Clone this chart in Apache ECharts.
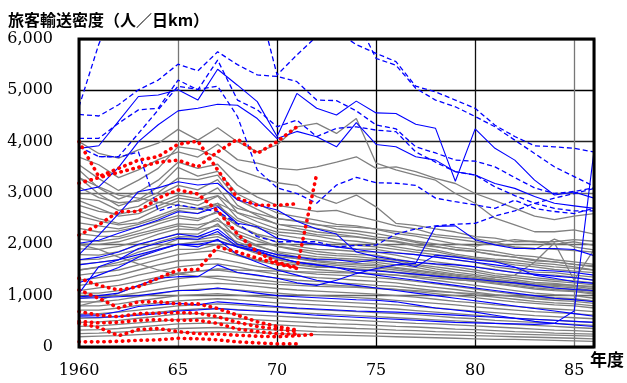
<!DOCTYPE html>
<html>
<head>
<meta charset="utf-8">
<script src="https://cdn.jsdelivr.net/npm/echarts@6/dist/echarts.min.js"></script>
<style>
html, body { margin: 0; padding: 0; background: #fff; }
#chart { width: 627px; height: 383px; }
</style>
</head>
<body>
<div id="chart"></div>
<script>
// 年度 (1960 - 1986)
const years = [1960,1961,1962,1963,1964,1965,1966,1967,1968,1969,1970,1971,1972,1973,
               1974,1975,1976,1977,1978,1979,1980,1981,1982,1983,1984,1985,1986];
const xTicks = ['1960', '65', '70', '75', '80', '85'];

// 灰色の線 (旅客輸送密度, 人/日km)
const grayLines = [
    [4000,3770,3680,3840,3970,4240,4030,4270,4000,3800,3935,4290,4355,4160,4450,3580,3450,3350,3250,2990,2800,2510,2380,2245,2245,2280,2200],
    [3700,3550,3300,3450,3650,3800,3700,3950,3650,3580,3480,3450,3510,3600,3705,3480,3510,3415,3285,3185,2990,2850,2700,2550,2480,2550,2600],
    [3550,3280,3050,3250,3480,3900,3850,3700,3450,3320,3200,3150,2930,2800,2960,2730,2410,2370,2300,2240,2150,2120,2050,2060,2000,2050,1980],
    [3450,3100,2880,3020,3250,3600,3480,3560,3150,2920,2760,2700,2640,2660,2550,2460,2360,2300,2190,2150,2110,2040,2090,2050,2050,2090,2060],
    [3300,2980,2750,2870,3120,3500,3330,3420,2980,2790,2610,2540,2470,2390,2360,2290,2210,2160,2080,2010,1960,2050,1940,1900,2100,1950,1890],
    [3120,2910,2810,2840,3010,3290,3260,3350,2870,2680,2500,2460,2390,2300,2260,2210,2140,2060,2010,1940,1900,1860,1790,1760,1700,1660,1610],
    [2900,2850,2660,2740,2960,3150,3060,3260,2760,2560,2390,2360,2310,2240,2210,2140,2110,2040,1960,1890,1860,1790,1750,1680,1660,1610,1580],
    [2760,2640,2590,2660,2810,2960,2890,3100,2610,2440,2300,2260,2190,2160,2140,2090,2050,1960,1890,1810,1750,1710,1690,1640,1610,1560,1500],
    [2640,2500,2410,2500,2690,2840,2760,2940,2510,2360,2240,2210,2160,2090,2060,2010,1950,1890,1860,1780,1710,1660,1600,1560,1510,1480,1450],
    [3300,3120,2960,2900,2820,2760,2700,2800,2620,2510,2400,2310,2240,2200,2150,2100,2060,1990,1950,1900,1860,1800,1750,1700,1660,1610,1560],
    [2850,2700,2550,2600,2750,2900,2850,2950,2700,2600,2500,2450,2380,2350,2330,2300,2250,2200,2150,2100,2050,2000,1950,1920,1900,1880,1850],
    [2550,2450,2380,2420,2560,2700,2680,2760,2460,2320,2190,2130,2080,2030,1980,1950,1900,1850,1800,1760,1720,1680,1640,1600,1560,1530,1500],
    [2420,2360,2300,2390,2510,2660,2600,2800,2360,2200,2110,2050,2010,1960,1910,1900,1840,1800,1760,1700,1650,1560,1510,1460,1450,1400,1360],
    [2310,2240,2260,2340,2450,2560,2500,2620,2360,2180,2040,1960,1900,1890,1860,1850,1790,1710,1660,1610,1560,1510,1450,1410,1400,1360,1300],
    [2210,2160,2150,2260,2400,2510,2460,2650,2200,2060,1960,1910,1860,1820,1800,1790,1710,1650,1610,1560,1500,1430,1390,1350,1310,1290,1250],
    [2100,2060,2110,2210,2300,2400,2380,2460,2260,2110,1960,1880,1810,1780,1760,1720,1690,1610,1560,1510,1460,1390,1350,1310,1280,1250,1210],
    [2010,2000,2050,2160,2260,2360,2310,2510,2110,1960,1860,1810,1760,1730,1710,1690,1650,1590,1520,1460,1410,1360,1310,1260,1240,1200,1160],
    [1910,1900,1960,2060,2200,2300,2280,2360,2160,1980,1840,1760,1720,1700,1680,1650,1600,1550,1480,1420,1380,1320,1280,1230,1200,1180,1130],
    [1800,1790,1860,1990,2100,2210,2200,2400,2010,1850,1760,1720,1680,1650,1630,1610,1550,1500,1450,1400,1350,1300,1250,1200,1180,1150,1100],
    [1700,1710,1800,1900,2050,2150,2140,2200,2050,1900,1800,1720,1660,1620,1600,1580,1530,1480,1430,1380,1330,1280,1230,1180,1150,1120,1080],
    [1500,1550,1600,1700,1800,1900,1900,2000,1800,1700,1650,1600,1550,1550,1500,1500,1450,1400,1400,1350,1300,1350,1400,1650,2030,1300,1900],
    [1610,1650,1700,1850,1950,2100,2090,2150,1980,1850,1720,1660,1620,1590,1560,1540,1500,1450,1400,1350,1300,1250,1200,1150,1120,1100,1050],
    [1500,1560,1650,1760,1900,2000,2050,2080,1950,1820,1700,1630,1570,1540,1520,1500,1460,1420,1370,1320,1280,1230,1180,1130,1100,1080,1030],
    [2000,1900,1750,1620,1500,1420,1380,1330,1280,1250,1220,1200,1180,1170,1160,1140,1120,1100,1080,1060,1040,1010,990,960,940,920,900],
    [800,900,1050,1200,1320,1420,1480,1520,1500,1490,1480,1470,1460,1450,1440,1420,1400,1370,1340,1310,1290,1270,1250,1230,1220,1200,1180],
    [1400,1450,1500,1600,1700,1800,1850,1880,1780,1680,1600,1550,1510,1480,1450,1430,1400,1350,1300,1250,1200,1150,1100,1050,1020,1000,950],
    [1300,1350,1400,1500,1600,1680,1700,1720,1650,1570,1510,1460,1420,1400,1380,1350,1320,1280,1230,1180,1130,1080,1030,990,960,940,900],
    [1200,1250,1300,1400,1480,1560,1600,1620,1560,1480,1420,1380,1350,1330,1300,1280,1250,1200,1160,1120,1070,1020,980,940,910,890,850],
    [1100,1150,1200,1280,1360,1440,1480,1500,1450,1390,1340,1300,1280,1250,1230,1200,1180,1140,1100,1060,1010,970,930,890,860,840,800],
    [1050,1050,1100,1180,1260,1330,1370,1380,1350,1310,1270,1240,1220,1200,1180,1150,1120,1080,1040,1000,960,920,880,850,820,800,760],
    [950,980,1000,1060,1120,1180,1220,1240,1220,1180,1140,1110,1090,1070,1050,1030,1000,970,930,890,860,820,790,760,740,720,690],
    [880,880,920,980,1040,1100,1120,1140,1110,1080,1050,1020,1000,980,960,940,910,880,850,820,780,750,720,690,670,650,620],
    [800,800,840,900,950,1000,1020,1040,1010,980,950,920,900,880,860,840,820,790,760,730,700,670,640,610,590,570,550],
    [720,720,760,810,860,900,920,940,920,890,860,840,820,800,780,760,740,710,680,650,620,590,560,540,520,500,480],
    [640,650,680,720,760,800,820,840,820,790,770,750,730,710,690,670,650,630,600,570,550,520,500,480,460,440,420],
    [560,570,600,640,680,720,740,750,730,710,690,670,650,630,610,590,570,550,530,510,490,460,440,420,400,380,360],
    [480,490,520,560,600,640,650,660,640,620,600,580,560,540,520,500,480,460,450,430,410,390,370,350,330,320,300],
    [400,410,440,470,500,540,560,570,550,530,510,490,470,450,440,420,400,390,370,350,340,320,300,290,270,260,250],
    [330,340,360,390,420,450,460,470,460,440,430,410,390,380,360,350,330,320,300,290,280,260,250,240,230,220,210],
    [260,270,290,310,330,360,370,380,360,350,330,320,300,290,280,270,260,250,240,230,220,210,200,190,180,170,160],
    [200,210,220,240,260,280,290,300,290,280,260,250,240,230,220,210,200,190,180,170,160,150,150,140,130,120,110]
];

// 青の実線
const blueSolid = [
    [3870,3920,4400,4880,4910,5010,4810,5410,5100,4780,4100,4940,4650,4520,4790,4560,4550,4340,4260,3230,4250,3870,3640,3250,2960,3020,2900],
    [3040,3120,3500,4000,4330,4600,4650,4730,4710,4450,4060,4200,4095,3900,4370,3945,3900,3705,3640,3415,3350,3185,3090,2930,2800,2750,2700],
    [1800,2180,2600,3025,3100,3220,3155,3190,2864,2766,2669,2450,2300,2200,1850,1760,1700,1650,1620,1600,1560,1500,1450,1420,1380,1350,1300],
    [2020,2080,2215,2344,2474,2636,2600,2733,2410,2344,2118,2050,2000,1950,1900,1850,1830,1800,1750,1700,1650,1600,1550,1500,1480,1450,1400],
    [1046,1565,1700,1920,2020,2120,2100,2250,1950,1850,1750,1650,1600,1550,1500,1480,1450,1420,1380,1350,1320,1280,1250,1200,1150,1120,1100],
    [980,1000,1050,1200,1340,1370,1370,1600,1450,1400,1340,1250,1200,1300,1430,1530,1600,1630,2350,2360,2090,1990,1920,1920,1920,1900,1780],
    [620,620,690,790,820,850,820,880,850,820,790,760,740,720,700,690,680,660,640,620,600,580,560,540,520,500,480],
    [590,580,590,620,650,700,720,750,720,700,680,650,620,600,580,560,540,520,500,480,470,460,450,440,460,700,3820],
    [1250,1400,1550,1750,1880,2000,2000,2070,1950,1880,1750,1650,1600,1550,1450,1400,1350,1300,1250,1200,1150,1100,1050,1000,950,920,880],
    [950,960,980,1000,1050,1100,1100,1150,1100,1050,1000,980,960,940,920,910,880,820,760,720,680,620,560,500,460,430,400],
    [1600,1650,1700,1800,1900,2000,1950,2100,1800,1650,1500,1400,1300,1250,1200,1150,1100,1050,1000,950,900,850,800,750,700,650,600],
    [1700,1750,1850,2000,2100,2200,2150,2300,2000,1900,1800,1750,1700,1700,1650,1700,1650,1565,1790,1750,1695,1660,1560,1400,1340,1270,1240]
];

// 青の破線
const blueDashed = [
    [4680,5900,6800,7000,7000,7000,7000,7000,7000,6800,5300,5690,6050,6150,5890,5720,5560,5080,4970,4810,4650,4320,4100,3920,3900,3870,3800],
    [null,null,null,null,null,null,null,null,null,null,null,null,null,7000,6400,5620,5490,5040,4810,4680,4490,4290,4030,3770,3510,3320,3130],
    [4530,4500,4720,5010,5200,5510,5380,5750,5500,5300,5270,5170,4810,4800,4600,4325,4250,3900,3780,3640,3620,3510,3300,3100,2990,3030,3100],
    [4065,4065,4360,4620,4650,5200,5010,5590,4810,4620,4290,4420,4100,4260,4290,4225,4195,3800,3600,3415,3350,3120,2950,2800,2700,2650,2650],
    [3900,3710,3710,4160,4620,5080,5020,5080,4490,3450,3100,2990,2800,3155,3305,3200,3190,3150,2900,2830,2770,2700,2860,2700,2640,2600,2700],
    [null,3710,3700,3800,2650,2770,2700,2640,2400,2150,2050,2050,2050,1950,1980,1985,2200,2300,2360,2390,2410,2550,2650,2800,2900,2990,3090]
];

// 赤の点線 (1960年から)
const redDotted = [
    [4000,3320,3480,3640,3710,3950,4010,3450,2900,2760,2760,2790],
    [3190,3300,3400,3500,3600,3640,3510,3800,4050,3770,4000,4290],
    [2180,2380,2640,2640,2900,3060,2980,2650,2200,1850,1650,1550],
    [1340,1200,1110,1175,1340,1500,1510,1950,1850,1730,1620,1530,3370],
    [1110,950,760,880,880,840,840,750,620,490,400,330],
    [690,620,590,650,660,670,660,590,480,400,350,300],
    [500,470,480,520,530,520,520,460,350,300,260,250],
    [460,380,220,340,360,300,260,250,230,210,200,220,250],
    [100,100,110,130,140,170,160,140,100,80,60,60]
];

// [年, 値] の組にする (null は飛ばす)
function toPairs(vals) {
    let out = [];
    vals.forEach(function (v, i) {
        if (v !== null && v !== undefined) {
            out.push([years[i], v]);
        }
    });
    return out;
}

function makeSeries(list, lineStyle, z) {
    return list.map(function (vals) {
        return {
            type: 'line',
            data: toPairs(vals),
            showSymbol: false,
            silent: true,
            clip: true,
            z: z,
            lineStyle: lineStyle
        };
    });
}

let series = [];
series = series.concat(makeSeries(grayLines, {color: '#808080', width: 1.3}, 2));
series = series.concat(makeSeries(blueSolid, {color: '#0000ff', width: 1.1}, 3));
series = series.concat(makeSeries(blueDashed, {color: '#0000ff', width: 1.3, type: [5, 3]}, 3));
series = series.concat(makeSeries(redDotted, {color: '#ff0000', width: 3.6, type: [0.4, 5.8], cap: 'round'}, 4));

let myChart = echarts.init(document.getElementById('chart'));
let option = {
    animation: false,
    backgroundColor: '#fff',
    grid: {
        left: 79,
        right: 33,
        top: 39,
        bottom: 36,
        show: true,
        borderColor: '#000',
        borderWidth: 3,
        z: 10
    },
    xAxis: {
        type: 'value',
        min: 1960,
        max: 1986,
        interval: 5,
        axisLine: {show: false},
        axisTick: {show: false},
        axisLabel: {
            margin: 16,
            fontFamily: 'DejaVu Serif',
            fontSize: 16,
            color: '#000',
            formatter: function (v) {
                let i = (v - 1960) / 5;
                return (v % 5 === 0 && xTicks[i]) ? xTicks[i] : '';
            }
        },
        // 縦の罫線: 65 と 85 は灰色
        splitLine: {show: true, lineStyle: {color: ['#000', '#777', '#000', '#000', '#111', '#777', '#000'], width: 1.3}}
    },
    yAxis: {
        type: 'value',
        min: 0,
        max: 6000,
        interval: 1000,
        axisLine: {show: false},
        axisTick: {show: false},
        axisLabel: {
            margin: 26,
            fontFamily: 'DejaVu Serif',
            fontSize: 16,
            color: '#000',
            formatter: function (v) {
                return v.toLocaleString('en-US');
            }
        },
        splitLine: {show: true, lineStyle: {color: ['#000', '#666', '#666', '#666', '#222', '#000', '#000'], width: 1.3}}
    },
    graphic: [
        {
            type: 'text',
            left: 8,
            top: 12,
            style: {
                text: '旅客輸送密度（人／日km）',
                font: 'bold 16px "Noto Sans CJK JP"',
                fill: '#000'
            }
        },
        {
            type: 'text',
            left: 590,
            top: 351,
            style: {
                text: '年度',
                font: 'bold 17px "Noto Sans CJK JP"',
                fill: '#000'
            }
        }
    ],
    series: series
};
myChart.setOption(option);
</script>
</body>
</html>
